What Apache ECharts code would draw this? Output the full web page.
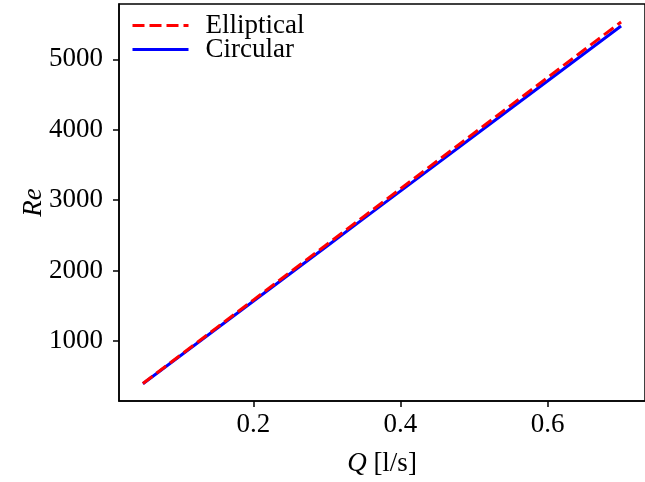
<!DOCTYPE html>
<html>
<head>
<meta charset="utf-8">
<script src="https://cdn.jsdelivr.net/npm/echarts@6/dist/echarts.min.js"></script>
<style>
  html, body { margin: 0; padding: 0; background: #fff; }
  #chart { width: 645px; height: 482px; }
</style>
</head>
<body>
<div id="chart"></div>
<script>
// flow rate Q [l/s]
var flowRates = [0.05, 0.10, 0.15, 0.20, 0.25, 0.30, 0.35, 0.40, 0.45, 0.50, 0.55, 0.60, 0.65, 0.70];
// Reynolds number
var reElliptical = [395, 790, 1185, 1580, 1975, 2370, 2765, 3160, 3556, 3951, 4346, 4741, 5136, 5531];
var reCircular = [391, 782, 1173, 1564, 1955, 2346, 2737, 3128, 3519, 3910, 4301, 4692, 5083, 5474];
var xTicks = [0.2, 0.4, 0.6];
var yTicks = [1000, 2000, 3000, 4000, 5000];

function pairs(xs, ys) {
  return xs.map(function (x, i) { return [x, ys[i]]; });
}

var font = 'Liberation Serif';
var chart = echarts.init(document.getElementById('chart'));
var option = {
  animation: false,
  backgroundColor: '#fff',
  grid: { left: 119, right: -10, top: 4, bottom: 81, show: true, borderColor: '#000', borderWidth: 1.5 },
  legend: {
    left: 126,
    top: 7,
    orient: 'vertical',
    itemWidth: 56,
    itemHeight: 12,
    itemGap: -3,
    itemStyle: { opacity: 0 },
    lineStyle: { width: 3 },
    textStyle: { fontFamily: font, fontSize: 27, color: '#000', lineHeight: 24, padding: [0, 0, 0, 12] },
    data: ['Elliptical', 'Circular']
  },
  xAxis: {
    type: 'value',
    min: 0.0175,
    max: 0.7325,
    name: '{i|Q} [l/s]',
    nameLocation: 'middle',
    nameGap: 49,
    nameTextStyle: {
      fontFamily: font, fontSize: 27, color: '#000',
      rich: { i: { fontFamily: font, fontSize: 27, fontStyle: 'italic', color: '#000' } }
    },
    axisLine: { onZero: false, lineStyle: { color: '#000', width: 1.5 } },
    axisTick: { show: true, inside: false, length: 6, lineStyle: { color: '#000', width: 1.5 }, customValues: xTicks },
    axisLabel: { fontFamily: font, fontSize: 27, color: '#000', margin: 10, customValues: xTicks,
      formatter: function (v) { return v.toFixed(1); } },
    splitLine: { show: false }
  },
  yAxis: {
    type: 'value',
    min: 147,
    max: 5786,
    name: 'Re',
    nameLocation: 'middle',
    nameGap: 72,
    nameRotate: 90,
    nameMoveOverlap: false,
    nameTextStyle: { fontFamily: font, fontSize: 27, fontStyle: 'italic', color: '#000', align: 'center', verticalAlign: 'bottom' },
    axisLine: { onZero: false, lineStyle: { color: '#000', width: 1.5 } },
    axisTick: { show: true, inside: false, length: 6, lineStyle: { color: '#000', width: 1.5 }, customValues: yTicks },
    axisLabel: { fontFamily: font, fontSize: 27, color: '#000', margin: 16, customValues: yTicks,
      formatter: function (v) { return String(v); } },
    splitLine: { show: false }
  },
  series: [
    {
      name: 'Elliptical',
      type: 'line',
      data: pairs(flowRates, reElliptical),
      showSymbol: false,
      symbol: 'none',
      z: 3,
      lineStyle: { color: '#ff0000', width: 3, type: [12, 5] },
      itemStyle: { color: '#ff0000' }
    },
    {
      name: 'Circular',
      type: 'line',
      data: pairs(flowRates, reCircular),
      showSymbol: false,
      symbol: 'none',
      z: 2,
      lineStyle: { color: '#0000ff', width: 3, type: 'solid' },
      itemStyle: { color: '#0000ff' }
    }
  ]
};
chart.setOption(option);
window.addEventListener('resize', chart.resize);
</script>
</body>
</html>
